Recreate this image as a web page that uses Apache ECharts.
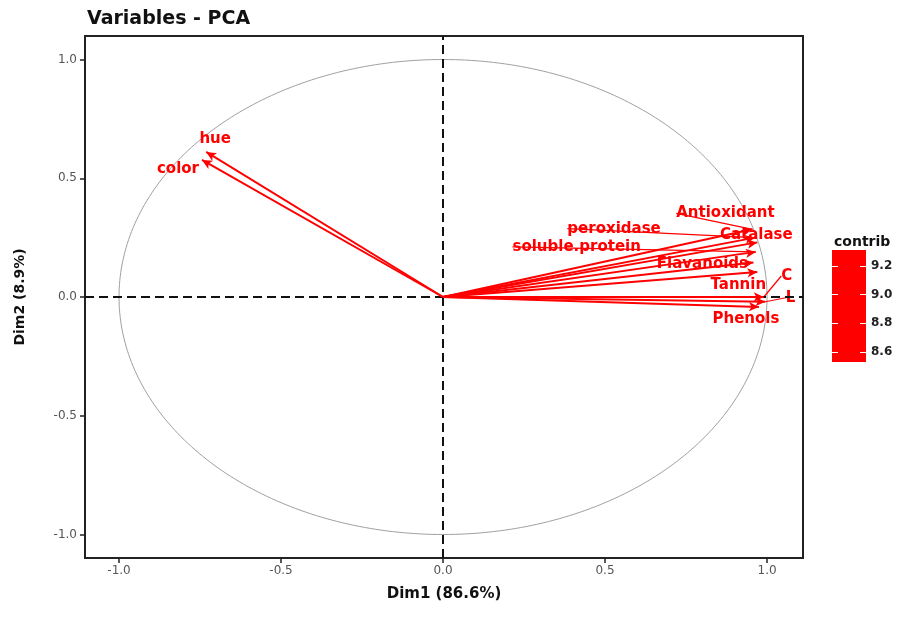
<!DOCTYPE html>
<html>
<head>
<meta charset="utf-8">
<script src="https://cdn.jsdelivr.net/npm/echarts@6/dist/echarts.min.js"></script>
<style>html,body{margin:0;padding:0;background:#fff}#c{width:901px;height:631px}</style>
</head>
<body>
<div id="c"></div>
<script>
// ---- data ----
const varNames = ['hue','color','Antioxidant','peroxidase','Catalase','soluble.protein','Flavanoids','Tannin','C','L','Phenols'];
const dim1 = [-0.731,-0.744,0.955,0.963,0.970,0.965,0.958,0.970,0.990,0.995,0.975];
const dim2 = [0.611,0.577,0.285,0.250,0.230,0.190,0.145,0.105,0.000,-0.020,-0.042];
const contrib = [8.6,8.55,9.2,9.25,9.3,9.2,9.15,9.2,9.3,9.3,9.25];
const axisTicks = [-1.0,-0.5,0.0,0.5,1.0];
const contribTicks = [8.6,8.8,9.0,9.2];

// ---- styling (label pixel offsets from arrow tips) ----
const labelOffsets = {
  'hue':[9,-13],'color':[-24,9],'Antioxidant':[-27,-16],'peroxidase':[-141,-9],
  'Catalase':[-1,-7],'soluble.protein':[-179,-5],'Flavanoids':[-51,2],
  'Tannin':[-19,13],'C':[23,-21],'L':[25,-4],'Phenols':[-13,12]
};
const leaders = {'peroxidase':1,'soluble.protein':1,'C':1,'L':1,'Antioxidant':1};

const circle = [];
for (let a = 0; a <= 360; a += 1) {
  circle.push([Math.cos(a*Math.PI/180), Math.sin(a*Math.PI/180)]);
}

const fnt = 'DejaVu Sans';
const chart = echarts.init(document.getElementById('c'), null, {renderer:'canvas'});

const arrowLines = varNames.map((n,i)=>[{coord:[0,0]},{coord:[dim1[i],dim2[i]]}]);
const labelPts = varNames.map((n,i)=>({
  name:n, value:[dim1[i],dim2[i],contrib[i]],
  labelLine:{show: !!leaders[n]}
}));

chart.setOption({
  animation:false,
  backgroundColor:'#fff',
  title:[
    {text:'Variables - PCA', left:82, top:5, textStyle:{fontFamily:fnt,fontWeight:'bold',fontSize:19,color:'#111'}},
    {text:'contrib', left:829, top:230, textStyle:{fontFamily:fnt,fontWeight:'bold',fontSize:14,color:'#111'}}
  ],
  grid:[
    {left:85, right:98, top:36, bottom:73, show:true, borderColor:'#222', borderWidth:2, backgroundColor:'#fff'},
    {left:832, top:250, width:34, height:112}
  ],
  xAxis:[
    {type:'value', gridIndex:0, min:-1.105, max:1.111,
     name:'Dim1 (86.6%)', nameLocation:'middle', nameGap:29,
     nameTextStyle:{fontFamily:fnt,fontWeight:'bold',fontSize:15,color:'#111'},
     axisLine:{show:true,onZero:false,lineStyle:{color:'#222',width:2}},
     axisTick:{show:true,length:5,lineStyle:{color:'#222',width:1.5},customValues:axisTicks},
     axisLabel:{fontFamily:fnt,fontSize:12,color:'#555',margin:7,customValues:axisTicks,
       formatter:v=>v.toFixed(1)},
     splitLine:{show:false}},
    {type:'category', gridIndex:1, data:['c'], show:false}
  ],
  yAxis:[
    {type:'value', gridIndex:0, min:-1.099, max:1.099,
     name:'Dim2 (8.9%)', nameLocation:'middle', nameGap:58, nameRotate:90,
     nameTextStyle:{fontFamily:fnt,fontWeight:'bold',fontSize:14,color:'#111'},
     axisLine:{show:true,onZero:false,lineStyle:{color:'#222',width:2}},
     axisTick:{show:true,length:5,lineStyle:{color:'#222',width:1.5},customValues:axisTicks},
     axisLabel:{fontFamily:fnt,fontSize:12,color:'#555',margin:8,customValues:axisTicks,
       formatter:v=>v.toFixed(1)},
     splitLine:{show:false}},
    {type:'value', gridIndex:1, position:'right', min:8.53, max:9.31, z:10,
     axisLine:{show:false},
     axisTick:{show:true,inside:true,length:6,lineStyle:{color:'#fff',width:1},customValues:contribTicks},
     axisLabel:{fontFamily:fnt,fontWeight:'bold',fontSize:12,color:'#222',margin:5,customValues:contribTicks,
       formatter:v=>v.toFixed(1)},
     splitLine:{show:false}},
    {type:'value', gridIndex:1, position:'left', min:8.53, max:9.31, z:10,
     axisLine:{show:false},
     axisTick:{show:true,inside:true,length:6,lineStyle:{color:'#fff',width:1},customValues:contribTicks},
     axisLabel:{show:false},
     splitLine:{show:false}}
  ],
  series:[
    {type:'line', xAxisIndex:0, yAxisIndex:0, data:circle, showSymbol:false, silent:true,
     lineStyle:{color:'#a0a0a0',width:1}, z:1,
     markLine:{silent:true, symbol:['none','none'], label:{show:false},
       lineStyle:{color:'#111',type:[9,5],width:2},
       data:[{xAxis:0},{yAxis:0}]}},
    {type:'line', xAxisIndex:0, yAxisIndex:0, data:[], z:3,
     markLine:{silent:true, symbol:['none','arrow'], symbolSize:[7,10], label:{show:false},
       lineStyle:{color:'#ff0000',width:2,type:'solid'},
       data:arrowLines}},
    {type:'scatter', xAxisIndex:0, yAxisIndex:0, symbolSize:0, data:labelPts, z:4,
     itemStyle:{opacity:1, color:'#ff0000'},
     label:{show:true, position:'inside', formatter:p=>p.name,
       fontFamily:fnt, fontWeight:'bold', fontSize:15, color:'#ff0000',
       textBorderWidth:0, textBorderColor:'transparent'},
     labelLine:{show:true, lineStyle:{color:'#ff0000',width:1.2,opacity:1}},
     labelLayout:p=>{const o=labelOffsets[varNames[p.dataIndex]];return {dx:o[0],dy:o[1]};}},
    {type:'bar', xAxisIndex:1, yAxisIndex:1, data:[9.31], barWidth:'100%',
     itemStyle:{color:'#ff0000'}, silent:true, z:2}
  ]
});
</script>
</body>
</html>
